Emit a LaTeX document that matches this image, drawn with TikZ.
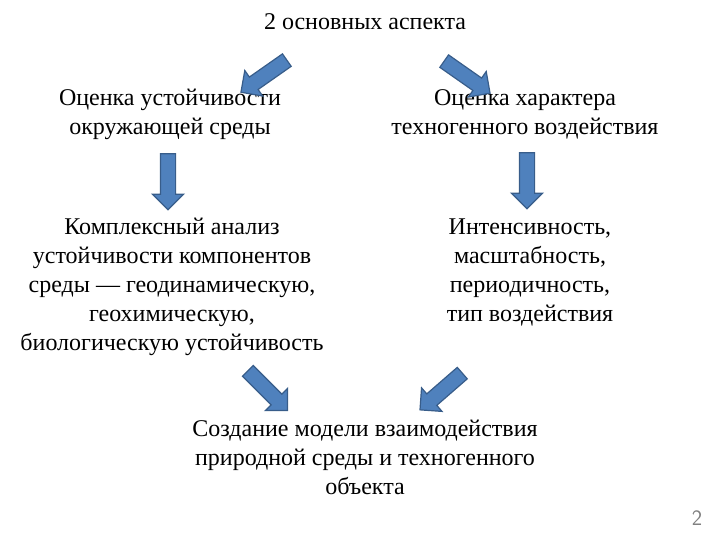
\documentclass[tikz,border=0pt]{standalone}
\usepackage{fontspec}
\setmainfont{Liberation Serif}
\usetikzlibrary{shapes.arrows}

\tikzset{
  txt/.style={align=center, font=\fontsize{24}{29}\selectfont, inner sep=0pt},
  blockarr/.style={single arrow, draw=arrowline, fill=arrowfill, line width=1.2pt,
    minimum height=56pt, single arrow head extend=8pt,
    single arrow head indent=0pt, inner sep=7pt}
}
\definecolor{arrowfill}{HTML}{4F81BD}
\definecolor{arrowline}{HTML}{385D8A}

\begin{document}
\begin{tikzpicture}[x=1pt,y=1pt]
        \useasboundingbox (0,0) rectangle (720,540);
        \node[txt] (top) at (365,518) {2 основных аспекта};
        \node[txt] (l1) at (170,426) {Оценка устойчивости\\окружающей среды};
        \node[txt] (r1) at (525,426) {Оценка характера\\техногенного воздействия};
        \node[txt] (l2) at (172,253) {Комплексный анализ\\устойчивости компонентов\\среды — геодинамическую,\\геохимическую,\\биологическую устойчивость};
        \node[txt] (r2) at (530,268) {Интенсивность,\\масштабность,\\периодичность,\\тип воздействия};
        \node[txt] (bot) at (365,83) {Создание модели взаимодействия\\природной среды и техногенного\\объекта};
        \node[font=\sffamily\fontsize{22}{24}\selectfont, text=gray] (num) at (697,22) {2};

        % block arrows
        \node[blockarr, rotate=215] (a1) at (267,466) {};
        \node[blockarr, rotate=-35] (a2) at (464,465) {};
        \node[blockarr, rotate=-90] (a3) at (168,362) {};
        \node[blockarr, rotate=-90] (a4) at (527,363) {};
        \node[blockarr, rotate=-45] (a5) at (265,152) {};
        \node[blockarr, rotate=221] (a6) at (444,151) {};
    \end{tikzpicture}
\end{document}
